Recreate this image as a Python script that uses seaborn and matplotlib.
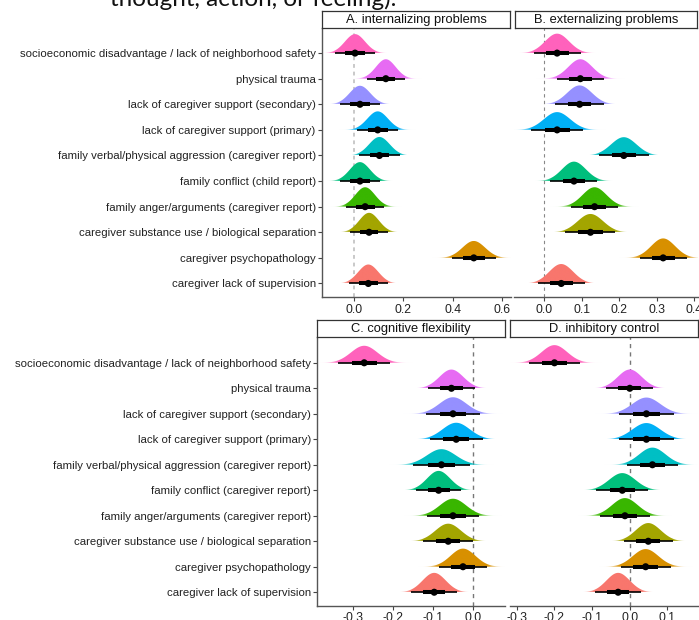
import numpy as np
import pandas as pd
import matplotlib
matplotlib.use("Agg")
import matplotlib.pyplot as plt
from matplotlib.colors import to_rgb
import seaborn as sns

# ---------------- data ----------------
categories_top = [
    "socioeconomic disadvantage / lack of neighborhood safety",
    "physical trauma",
    "lack of caregiver support (secondary)",
    "lack of caregiver support (primary)",
    "family verbal/physical aggression (caregiver report)",
    "family conflict (child report)",
    "family anger/arguments (caregiver report)",
    "caregiver substance use / biological separation",
    "caregiver psychopathology",
    "caregiver lack of supervision",
]
categories_bottom = [
    "socioeconomic disadvantage / lack of neighborhood safety",
    "physical trauma",
    "lack of caregiver support (secondary)",
    "lack of caregiver support (primary)",
    "family verbal/physical aggression (caregiver report)",
    "family conflict (caregiver report)",
    "family anger/arguments (caregiver report)",
    "caregiver substance use / biological separation",
    "caregiver psychopathology",
    "caregiver lack of supervision",
]
panel_titles = ["A. internalizing problems", "B. externalizing problems",
                "C. cognitive flexibility", "D. inhibitory control"]

# posterior medians and spreads (sd), listed top row to bottom row
a_median = [0.004, 0.129, 0.024, 0.096, 0.103, 0.024, 0.045, 0.061, 0.486, 0.058]
a_sd     = [0.041, 0.040, 0.042, 0.042, 0.042, 0.041, 0.040, 0.040, 0.046, 0.041]
b_median = [0.034, 0.096, 0.094, 0.034, 0.212, 0.079, 0.134, 0.123, 0.317, 0.045]
b_sd     = [0.032, 0.032, 0.033, 0.035, 0.034, 0.032, 0.032, 0.034, 0.032, 0.032]
c_median = [-0.272, -0.054, -0.050, -0.042, -0.079, -0.086, -0.050, -0.062, -0.025, -0.097]
c_sd     = [0.033, 0.030, 0.034, 0.034, 0.036, 0.029, 0.033, 0.032, 0.031, 0.029]
d_median = [-0.200, 0.000, 0.044, 0.044, 0.060, -0.020, -0.013, 0.049, 0.042, -0.031]
d_sd     = [0.034, 0.032, 0.037, 0.037, 0.035, 0.035, 0.034, 0.033, 0.034, 0.031]

a_ticks = [0.0, 0.2, 0.4, 0.6]
b_ticks = [0.0, 0.1, 0.2, 0.3, 0.4]
c_ticks = [-0.3, -0.2, -0.1, 0.0]
d_ticks = [-0.3, -0.2, -0.1, 0.0, 0.1]

top_text = "thought, action, or feeling)."

# ggplot hue palette (10 levels), listed top row to bottom row
palette = ["#FF62BC", "#E76BF3", "#9590FF", "#00B0F6", "#00BFC4",
           "#00BF7D", "#39B600", "#A3A500", "#D89000", "#F8766D"]

# ---------------- styling ----------------
sns.set_theme(style="ticks")
plt.rcParams["font.family"] = ["Liberation Sans", "DejaVu Sans"]
plt.rcParams["axes.unicode_minus"] = False

W, H = 699, 620
fig = plt.figure(figsize=(W / 100, H / 100), dpi=100)


def px_axes(x0, x1, y0, y1):
    return fig.add_axes([x0 / W, 1 - y1 / H, (x1 - x0) / W, (y1 - y0) / H])


panels = [
    dict(title=panel_titles[0], med=a_median, sd=a_sd, ticks=a_ticks, cats=categories_top,
         box=(322, 511, 27.5, 297.3), strip=(322, 510, 11, 27.5), xlim=(-0.13, 0.637),
         ylabels=True, zc="#bbbbbb", zlw=1.1, zls=(0, (2.5, 2.5))),
    dict(title=panel_titles[1], med=b_median, sd=b_sd, ticks=b_ticks, cats=categories_top,
         box=(514, 698, 27.5, 297.3), strip=(515, 697, 11, 27.5), xlim=(-0.081, 0.41),
         ylabels=False, zc="#888888", zlw=0.8, zls=(0, (3, 3))),
    dict(title=panel_titles[2], med=c_median, sd=c_sd, ticks=c_ticks, cats=categories_bottom,
         box=(317, 505, 337.3, 606), strip=(317, 505, 320, 337.3), xlim=(-0.39, 0.08),
         ylabels=True, zc="#777777", zlw=1.0, zls=(0, (3, 3))),
    dict(title=panel_titles[3], med=d_median, sd=d_sd, ticks=d_ticks, cats=categories_bottom,
         box=(510, 698, 337.3, 606), strip=(510, 698, 320, 337.3), xlim=(-0.318, 0.181),
         ylabels=False, zc="#777777", zlw=1.0, zls=(0, (3, 3))),
]

n = 10
for p in panels:
    ax = px_axes(*p["box"])
    med = np.array(p["med"])
    sd = np.array(p["sd"])
    ypos = np.arange(n, 0, -1)  # top row at 10
    heights = 0.76 * sd.min() / sd

    ax.axvline(0, color=p["zc"], lw=p["zlw"], ls=p["zls"], zorder=1)

    for i in range(n):
        lo, hi = med[i] - 4.0 * sd[i], med[i] + 4.0 * sd[i]
        xs = np.linspace(lo, hi, 300)
        dens = np.exp(-0.5 * ((xs - med[i]) / sd[i]) ** 2) * heights[i]
        poly = ax.fill_between(xs, ypos[i], ypos[i] + dens, color="none", lw=0)
        # colour ramp: opaque body, fading tails
        zs = np.abs((xs - med[i]) / sd[i])
        alpha = np.clip((3.3 - zs) / 1.4, 0.12, 1.0)
        rgba = np.zeros((1, len(xs), 4))
        rgba[0, :, :3] = to_rgb(palette[i])
        rgba[0, :, 3] = alpha
        im = ax.imshow(rgba, extent=[lo, hi, ypos[i], ypos[i] + heights[i]],
                       aspect="auto", origin="lower", interpolation="bilinear", zorder=2)
        im.set_clip_path(poly.get_paths()[0], transform=ax.transData)
        ax.hlines(ypos[i], med[i] - 1.96 * sd[i], med[i] + 1.96 * sd[i],
                  color="black", lw=1.2, zorder=3)
        ax.hlines(ypos[i], med[i] - 0.954 * sd[i], med[i] + 0.954 * sd[i],
                  color="black", lw=2.9, zorder=3)

    df = pd.DataFrame({"x": med, "y": ypos})
    sns.scatterplot(data=df, x="x", y="y", ax=ax, color="black", s=26,
                    edgecolor="none", zorder=4, legend=False)

    ax.set_xlim(*p["xlim"])
    ax.set_ylim(0.46, 11.0)
    ax.set_xticks(p["ticks"])
    ax.set_xticklabels([f"{t:.1f}" for t in p["ticks"]])
    ax.set_xlabel("")
    ax.set_ylabel("")
    ax.tick_params(axis="x", length=3, width=0.8, color="#444444", labelsize=8.8,
                   labelcolor="#222222", pad=1.5)
    for s in ["top", "right"]:
        ax.spines[s].set_visible(False)
    ax.spines["bottom"].set_color("#555555")
    ax.spines["bottom"].set_linewidth(1.0)
    if p["ylabels"]:
        ax.set_yticks(ypos)
        ax.set_yticklabels(p["cats"])
        ax.tick_params(axis="y", length=3, width=0.8, color="#444444", labelsize=8.2,
                       labelcolor="#222222", pad=1.5)
        ax.spines["left"].set_color("#555555")
        ax.spines["left"].set_linewidth(1.0)
    else:
        ax.set_yticks([])
        ax.spines["left"].set_visible(False)
    ax.set_facecolor("white")

    # facet strip
    sx = px_axes(*p["strip"])
    sx.set_xticks([])
    sx.set_yticks([])
    sx.set_facecolor("white")
    for s in sx.spines.values():
        s.set_visible(True)
        s.set_color("#333333")
        s.set_linewidth(0.9)
    sx.text(0.5, 0.47, p["title"], ha="center", va="center", fontsize=9.3,
            color="#111111", transform=sx.transAxes)

fig.text(110 / W, 1 - 6.5 / H, top_text, ha="left", va="baseline",
         fontsize=17.5, family=["Lato", "DejaVu Sans"], color="#111111")

fig.savefig("out.png", dpi=100)
